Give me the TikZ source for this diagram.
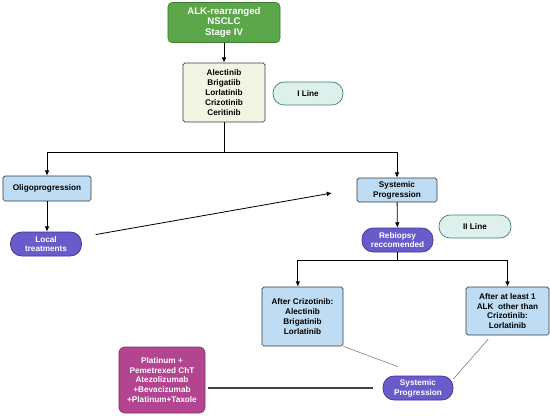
\documentclass[tikz,border=0pt]{standalone}
\usepackage{fontspec}
\setmainfont{Liberation Sans}
\usetikzlibrary{arrows.meta}
\definecolor{stagegreen}{HTML}{5CA64A}
\definecolor{stageedge}{HTML}{3E7E31}
\definecolor{drugfill}{HTML}{F2F5E3}
\definecolor{progblue}{HTML}{BEDCF3}
\definecolor{boxedge}{HTML}{3A3A3A}
\definecolor{linefill}{HTML}{DDF0EB}
\definecolor{lineedge}{HTML}{3F7E72}
\definecolor{treatpurple}{HTML}{6A5BCB}
\definecolor{treatedge}{HTML}{3C3494}
\definecolor{chemofill}{HTML}{B3448F}
\definecolor{chemoedge}{HTML}{8A2E6E}

\begin{document}
\begin{tikzpicture}[x=0.03cm,y=-0.03cm,
  txt/.style={font=\fontsize{7}{8.4}\selectfont\bfseries,align=center,inner sep=0pt},
  bluebox/.style={txt,draw=boxedge,fill=progblue,rounded corners=1.5pt,line width=0.6pt},
  pill/.style={txt,rounded corners=9.5pt,line width=0.6pt},
  treatpill/.style={pill,draw=treatedge,fill=treatpurple,text=white},
  linepill/.style={pill,draw=lineedge,fill=linefill},
  arr/.style={-{Latex[length=4.5pt,width=4pt]},line width=0.7pt},
  link/.style={draw=black!55,line width=0.45pt}]
\useasboundingbox (0,0) rectangle (550,417);

% first line
\node[txt,font=\fontsize{8.2}{9}\selectfont\bfseries,text=white,draw=stageedge,fill=stagegreen,
  rounded corners=3.5pt,line width=0.6pt,minimum width=3.36cm,minimum height=1.2cm]
  (stage) at (224,22.5) {ALK-rearranged\\NSCLC\\Stage IV};
\node[txt,draw=boxedge,fill=drugfill,rounded corners=1.5pt,line width=0.6pt,
  minimum width=2.46cm,minimum height=1.77cm]
  (firstdrugs) at (224,92.5) {Alectinib\\Brigatiib\\Lorlatinib\\Crizotinib\\Ceritinib};
\node[linepill,minimum width=2.1cm,minimum height=0.69cm] (iline) at (308,93.5) {I Line};

\draw[arr] (stage) -- (firstdrugs);
\coordinate (split) at (224,152);
\draw[line width=0.7pt] (firstdrugs) -- (split);

% progression
\node[bluebox,minimum width=2.64cm,minimum height=0.75cm] (oligo) at (47,188.5) {Oligoprogression};
\node[treatpill,minimum width=2.13cm,minimum height=0.72cm] (local) at (46,244) {Local\\treatments};
\node[bluebox,minimum width=2.4cm,minimum height=0.72cm] (sysprog) at (397,190) {Systemic\\Progression};
\node[treatpill,minimum width=2.13cm,minimum height=0.72cm] (rebiopsy) at (397.5,240) {Rebiopsy\\reccomended};
\node[linepill,minimum width=2.16cm,minimum height=0.69cm] (iiline) at (475,226.5) {II Line};

\draw[arr] (split) -| (oligo);
\draw[arr] (split) -| (sysprog);
\draw[arr] (oligo.south) -- (oligo.south |- local.north);
\coordinate (localtip) at (332,193);
\draw[arr,shorten <=0.42cm] ([yshift=0.21cm]local.east) -- (localtip);
\draw[arr] (sysprog) -- (rebiopsy);

% second line
\node[bluebox,minimum width=2.43cm,minimum height=1.77cm] (aftercriz) at (302.5,316.5)
  {After Crizotinib:\\Alectinib\\Brigatinib\\Lorlatinib};
\node[bluebox,minimum width=2.49cm,minimum height=1.44cm] (afterone) at (507.5,311)
  {After at least 1\\ALK\ \ other than\\Crizotinib:\\Lorlatinib};
\node[treatpill,minimum width=2.1cm,minimum height=0.72cm] (sysprogtwo) at (418,388) {Systemic\\Progression};
\node[txt,text=white,draw=chemoedge,fill=chemofill,rounded corners=5pt,line width=0.6pt,
  minimum width=2.58cm,minimum height=1.98cm] (chemo) at (162,380)
  {Platinum +\\Pemetrexed ChT\\Atezolizumab\\+Bevacizumab\\+Platinum+Taxole};

\coordinate (splittwo) at (397.5,260);
\draw[line width=0.7pt] (rebiopsy) -- (splittwo);
\draw[arr] (splittwo) -| ([xshift=-0.14cm]aftercriz.north);
\draw[arr] (splittwo) -| (afterone);

\draw[link] (aftercriz.south east) -- ([xshift=-0.6cm,yshift=0.27cm]sysprogtwo.north);
\draw[link,shorten <=0.15cm] ([xshift=-0.48cm]afterone.south) -- ([yshift=0.27cm]sysprogtwo.east);
\draw[line width=0.9pt,draw=black!75,shorten <=0.09cm,shorten >=0.3cm]
  (chemo.east |- sysprogtwo.west) -- (sysprogtwo.west);

\end{tikzpicture}
\end{document}
